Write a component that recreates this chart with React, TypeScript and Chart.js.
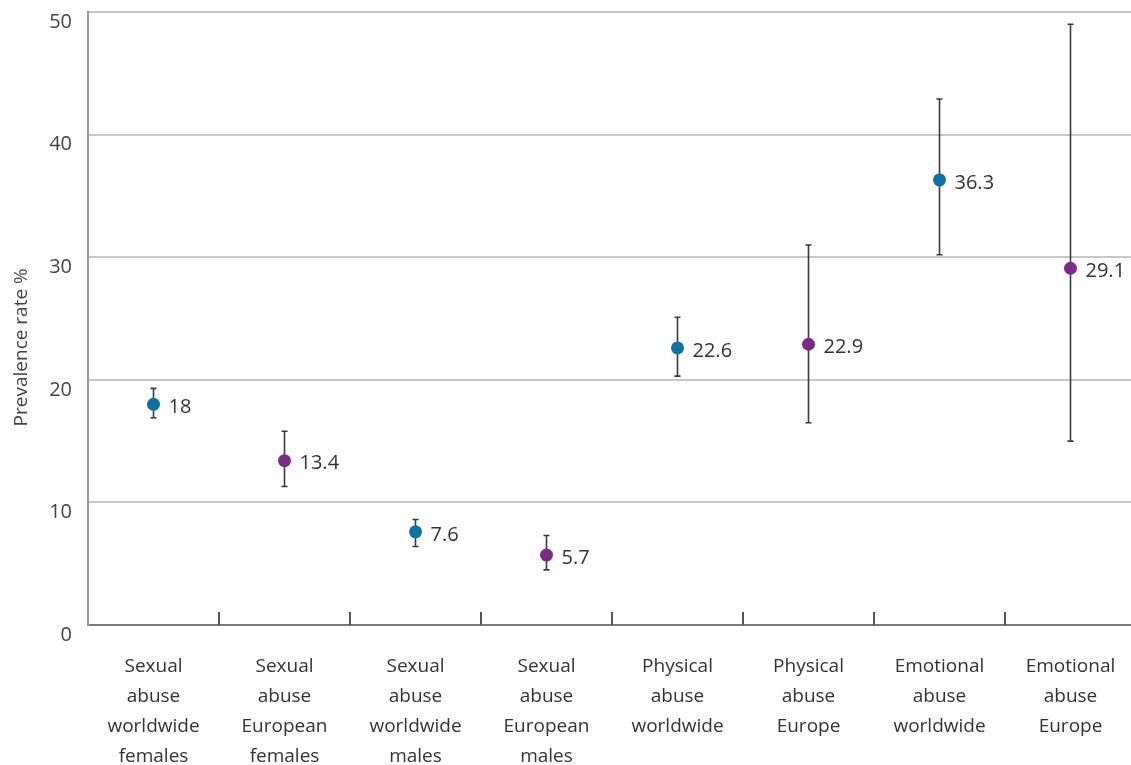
import React, { useEffect, useRef } from "react";
import { Chart, registerables } from "chart.js";

Chart.register(...registerables);

const categories: string[][] = [
  ["Sexual", "abuse", "worldwide", "females"],
  ["Sexual", "abuse", "European", "females"],
  ["Sexual", "abuse", "worldwide", "males"],
  ["Sexual", "abuse", "European", "males"],
  ["Physical", "abuse", "worldwide"],
  ["Physical", "abuse", "Europe"],
  ["Emotional", "abuse", "worldwide"],
  ["Emotional", "abuse", "Europe"],
];
const prevalence = [18, 13.4, 7.6, 5.7, 22.6, 22.9, 36.3, 29.1];
const lowerCI = [16.9, 11.3, 6.4, 4.5, 20.3, 16.5, 30.2, 15.0];
const upperCI = [19.3, 15.8, 8.6, 7.3, 25.1, 31.0, 42.9, 49.0];
const region = ["worldwide", "europe", "worldwide", "europe", "worldwide", "europe", "worldwide", "europe"];
const yMin = 0;
const yMax = 50;
const yStep = 10;
const yTitle = "Prevalence rate %";

const BLUE = "#0b72a3";
const PURPLE = "#7b2b86";
const FONT = "'Open Sans', sans-serif";

const errorBarPlugin = {
  id: "errorBars",
  beforeDatasetsDraw(chart: any) {
    const { ctx, scales } = chart;
    const x = scales.x;
    const y = scales.y;
    ctx.save();
    ctx.strokeStyle = "#3a3a3a";
    ctx.lineWidth = 1.6;
    prevalence.forEach((_, i) => {
      const px = x.getPixelForValue(i);
      const top = y.getPixelForValue(upperCI[i]);
      const bot = y.getPixelForValue(lowerCI[i]);
      ctx.beginPath();
      ctx.moveTo(px, top);
      ctx.lineTo(px, bot);
      ctx.moveTo(px - 3, top);
      ctx.lineTo(px + 3, top);
      ctx.moveTo(px - 3, bot);
      ctx.lineTo(px + 3, bot);
      ctx.stroke();
    });
    ctx.restore();
  },
  afterDatasetsDraw(chart: any) {
    const { ctx, scales, chartArea } = chart;
    const x = scales.x;
    const y = scales.y;
    ctx.save();
    // value labels
    ctx.fillStyle = "#333333";
    ctx.font = `20px ${FONT}`;
    ctx.textAlign = "left";
    ctx.textBaseline = "middle";
    prevalence.forEach((v, i) => {
      const px = x.getPixelForValue(i);
      const py = y.getPixelForValue(v);
      ctx.fillText(String(v), px + 15, py + 3);
    });
    // inner tick marks at category boundaries
    const w = (chartArea.right - chartArea.left) / categories.length;
    ctx.strokeStyle = "#555555";
    ctx.lineWidth = 2;
    for (let i = 1; i < categories.length; i++) {
      const bx = Math.round(chartArea.left + i * w);
      ctx.beginPath();
      ctx.moveTo(bx, chartArea.bottom);
      ctx.lineTo(bx, chartArea.bottom - 13);
      ctx.stroke();
    }
    // y-axis title (placed slightly below the axis centre, as in the source)
    ctx.translate(22, chartArea.top + (chartArea.bottom - chartArea.top) * 0.547);
    ctx.rotate(-Math.PI / 2);
    ctx.textAlign = "center";
    ctx.textBaseline = "middle";
    ctx.fillStyle = "#444444";
    ctx.font = `19px ${FONT}`;
    ctx.fillText(yTitle, 0, 0);
    ctx.restore();
  },
};

export default function App() {
  const ref = useRef<HTMLCanvasElement>(null);
  useEffect(() => {
    document.body.style.margin = "0";
    const canvas = ref.current!;
    const chart = new Chart(canvas, {
      type: "line",
      data: {
        labels: categories,
        datasets: [
          {
            data: prevalence,
            showLine: false,
            pointRadius: 6.5,
            pointHoverRadius: 6.5,
            pointBackgroundColor: region.map((r) => (r === "worldwide" ? BLUE : PURPLE)),
            pointBorderColor: region.map((r) => (r === "worldwide" ? BLUE : PURPLE)),
            pointBorderWidth: 0,
          },
        ],
      },
      options: {
        responsive: false,
        animation: false,
        events: [],
        layout: { autoPadding: false, padding: { top: 12, left: 0, right: 0, bottom: 0 } },
        plugins: {
          legend: { display: false },
          tooltip: { enabled: false },
          title: { display: false },
        },
        scales: {
          x: {
            type: "category",
            offset: true,
            grid: { display: false, drawTicks: false },
            border: { display: true, color: "#7a7a7a", width: 2 },
            ticks: {
              color: "#333333",
              font: { family: FONT, size: 19, lineHeight: 1.58 },
              padding: 27,
              maxRotation: 0,
              autoSkip: false,
            },
            afterFit(scale: any) {
              scale.height = 140;
              scale.paddingLeft = 0;
              scale.paddingRight = 0;
            },
          },
          y: {
            min: yMin,
            max: yMax,
            grid: { color: "#c8c8c8", lineWidth: 2, drawTicks: false },
            border: { display: true, color: "#9a9a9a", width: 2 },
            ticks: {
              stepSize: yStep,
              color: "#444444",
              font: { family: FONT, size: 20 },
              padding: 16,
              labelOffset: 10,
            },
            title: { display: false },
            afterFit(scale: any) {
              scale.width = 88;
              scale.paddingTop = 0;
              scale.paddingBottom = 0;
            },
          },
        },
      },
      plugins: [errorBarPlugin],
    } as any);
    return () => chart.destroy();
  }, []);
  return (
    <div style={{ width: 1131, height: 765, overflow: "hidden", position: "relative", background: "#fff" }}>
      <canvas ref={ref} width={1136} height={765} style={{ width: 1136, height: 765, display: "block" }} />
    </div>
  );
}
